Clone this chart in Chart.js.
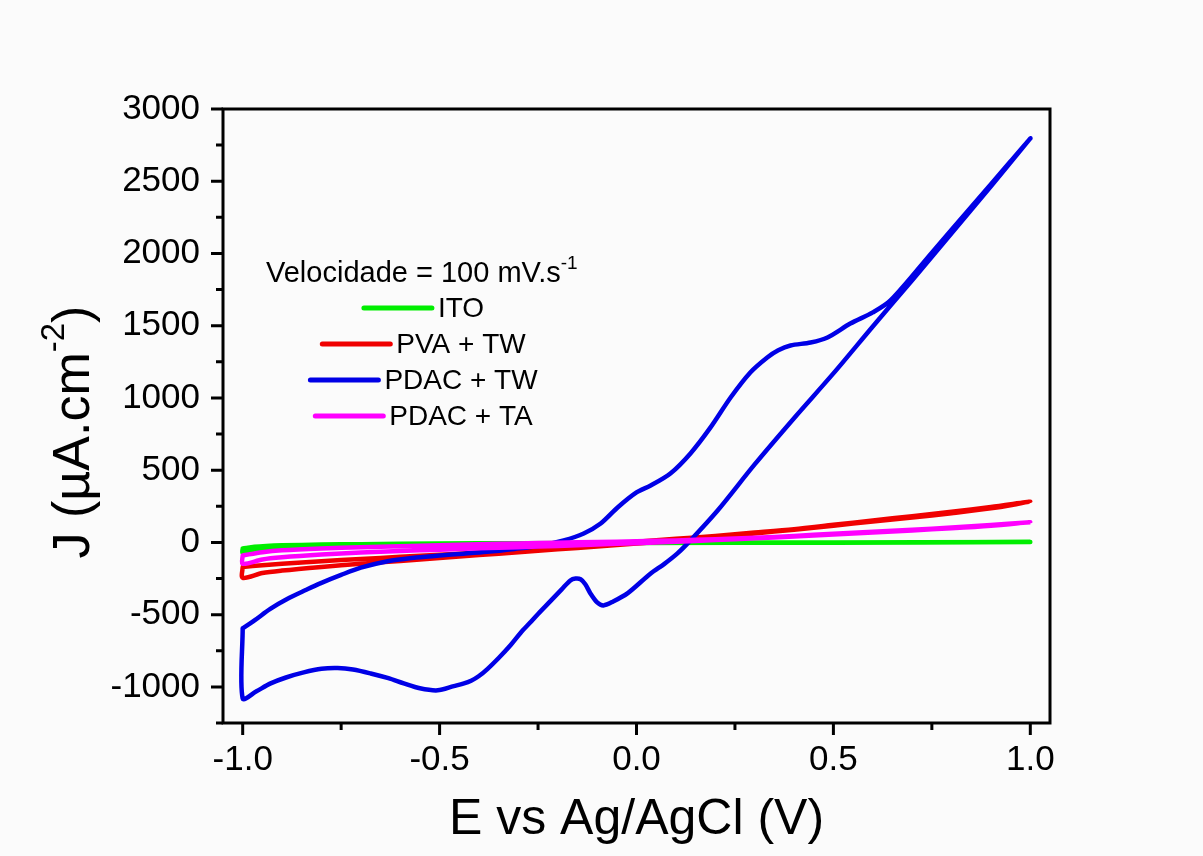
<!DOCTYPE html>
<html>
<head>
<meta charset="utf-8">
<script src="https://cdn.jsdelivr.net/npm/chart.js@4.4.0/dist/chart.umd.min.js"></script>
<style>
html, body { margin: 0; padding: 0; background: #fbfbfb; }
canvas { display: block; }
</style>
</head>
<body>
<canvas id="cvChart" width="1203" height="856"></canvas>
<script>
// axis ticks
const xTicks = [-1.0, -0.5, 0.0, 0.5, 1.0];
const xMinor = [-0.75, -0.25, 0.25, 0.75];
const yTicks = [-1000, -500, 0, 500, 1000, 1500, 2000, 2500, 3000];
const yMinor = [-1250, -750, -250, 250, 750, 1250, 1750, 2250, 2750];

// ITO
const itoE = [-1.0, -0.97, -0.94, -0.9, -0.8, -0.7, -0.5, -0.3, 0.0, 0.5, 1.0,
  0.5, 0.0, -0.3, -0.5, -0.7, -0.8, -0.9, -0.94, -0.97, -1.0, -1.0];
const itoJ = [-42, -30, -24, -20, -15, -12, -8, -5, -2, 0, 2,
  -2, -4, -7, -12, -18, -24, -32, -40, -50, -70, -42];

// PVA + TW
const pvaE = [-1.0, -0.95, -0.9, -0.8, -0.7, -0.6, -0.5, -0.4, -0.3, -0.2, -0.1, 0.0, 0.1, 0.2, 0.3, 0.4, 0.5, 0.6, 0.7, 0.8, 0.9, 1.0,
  0.9, 0.8, 0.7, 0.6, 0.5, 0.4, 0.3, 0.2, 0.1, 0.0, -0.1, -0.2, -0.3, -0.4, -0.5, -0.6, -0.7, -0.8, -0.9, -0.95, -1.0, -1.0];
const pvaJ = [-170, -158, -148, -130, -115, -100, -85, -70, -52, -35, -15, 5, 25, 45, 68, 92, 122, 152, 182, 212, 245, 282,
  236, 202, 172, 144, 116, 88, 62, 36, 14, -8, -28, -48, -68, -88, -108, -128, -148, -170, -195, -212, -245, -170];

// PDAC + TW
const twE = [-1.0, -0.97, -0.93, -0.886, -0.84, -0.8, -0.75, -0.7, -0.632, -0.56, -0.5, -0.44, -0.38, -0.31, -0.25, -0.185,
  -0.134, -0.091, -0.048, 0.0, 0.036, 0.086, 0.137, 0.188, 0.239, 0.289, 0.332, 0.36, 0.391, 0.442, 0.485, 0.543, 0.6, 0.645,
  0.75, 0.85, 0.95, 1.0,
  0.9, 0.8, 0.7, 0.6, 0.5, 0.4, 0.3, 0.206, 0.137, 0.104, 0.07, 0.036, -0.023, -0.06, -0.084, -0.1, -0.117, -0.13, -0.142,
  -0.155, -0.168, -0.19, -0.218, -0.25, -0.27, -0.294, -0.32, -0.35, -0.378, -0.4, -0.42, -0.44, -0.464, -0.505, -0.55,
  -0.591, -0.63, -0.675, -0.72, -0.759, -0.8, -0.845, -0.89, -0.929, -0.965, -1.0, -1.0];
const twJ = [-595, -540, -460, -390, -330, -280, -225, -175, -130, -105, -90, -78, -65, -45, -25, 14,
  62, 131, 242, 346, 394, 477, 616, 796, 1003, 1176, 1280, 1330, 1363, 1384, 1419, 1515, 1592, 1675,
  2006, 2322, 2638, 2796,
  2465, 2140, 1815, 1495, 1170, 860, 540, 221, 14, -76, -150, -215, -353, -410, -436, -415, -353, -290, -255,
  -250, -263, -325, -405, -495, -555, -625, -712, -800, -875, -925, -958, -978, -995, -1024, -1010,
  -976, -940, -907, -880, -870, -875, -900, -935, -976, -1030, -1080, -595];

// PDAC + TA
const taE = [-1.0, -0.95, -0.9, -0.8, -0.7, -0.6, -0.5, -0.4, -0.3, -0.2, -0.1, 0.0, 0.1, 0.2, 0.3, 0.4, 0.5, 0.6, 0.7, 0.8, 0.9, 1.0,
  0.9, 0.8, 0.7, 0.6, 0.5, 0.4, 0.3, 0.2, 0.1, 0.0, -0.1, -0.2, -0.3, -0.4, -0.5, -0.6, -0.7, -0.8, -0.9, -0.95, -1.0, -1.0];
const taJ = [-90, -68, -55, -42, -33, -26, -19, -13, -7, -2, 3, 8, 14, 22, 32, 45, 60, 74, 88, 103, 120, 140,
  116, 98, 83, 69, 55, 41, 28, 16, 5, -5, -15, -24, -33, -41, -50, -59, -70, -84, -103, -118, -148, -90];

const toPoints = (xs, ys) => xs.map((v, i) => ({ x: v, y: ys[i] }));

const fontFam = '"Liberation Sans", Arial, sans-serif';
Chart.defaults.font.family = fontFam;
Chart.defaults.color = '#000';

const frameAndLegend = {
  id: 'frameAndLegend',
  beforeDraw(chart) {
    const ctx = chart.ctx;
    ctx.save();
    ctx.fillStyle = '#fbfbfb';
    ctx.fillRect(0, 0, chart.width, chart.height);
    ctx.restore();
  },
  afterDatasetsDraw(chart) {
    const ctx = chart.ctx;
    const a = chart.chartArea;
    const xs = chart.scales.x, ys = chart.scales.y;
    ctx.save();
    ctx.strokeStyle = '#000';
    ctx.lineWidth = 3;
    ctx.strokeRect(a.left, a.top, a.right - a.left, a.bottom - a.top);

    // ticks, pointing out
    ctx.beginPath();
    xTicks.forEach(v => { const p = xs.getPixelForValue(v); ctx.moveTo(p, a.bottom); ctx.lineTo(p, a.bottom + 12); });
    xMinor.forEach(v => { const p = xs.getPixelForValue(v); ctx.moveTo(p, a.bottom); ctx.lineTo(p, a.bottom + 7); });
    yTicks.forEach(v => { const p = ys.getPixelForValue(v); ctx.moveTo(a.left, p); ctx.lineTo(a.left - 12, p); });
    yMinor.forEach(v => { const p = ys.getPixelForValue(v); ctx.moveTo(a.left, p); ctx.lineTo(a.left - 7, p); });
    ctx.stroke();

    // y title with superscript
    ctx.save();
    ctx.translate(70, 432);
    ctx.rotate(-Math.PI / 2);
    ctx.fillStyle = '#000';
    ctx.textBaseline = 'alphabetic';
    ctx.textAlign = 'left';
    ctx.font = '52px ' + fontFam;
    const t1 = 'J (\u00b5A.cm', t3 = ')';
    const w1 = ctx.measureText(t1).width, w3 = ctx.measureText(t3).width;
    ctx.font = '33px ' + fontFam;
    const w2 = ctx.measureText('-2').width;
    let sx = -(w1 + w2 + w3) / 2;
    ctx.font = '52px ' + fontFam;
    ctx.fillText(t1, sx, 19);
    ctx.font = '33px ' + fontFam;
    ctx.fillText('-2', sx + w1, -6);
    ctx.font = '52px ' + fontFam;
    ctx.fillText(t3, sx + w1 + w2, 19);
    ctx.restore();

    // legend
    ctx.fillStyle = '#000';
    ctx.textAlign = 'left';
    ctx.textBaseline = 'alphabetic';
    ctx.font = '29px ' + fontFam;
    const title = 'Velocidade = 100 mV.s';
    const tw = ctx.measureText(title).width;
    ctx.fillText(title, 266, 282);
    ctx.font = '19px ' + fontFam;
    ctx.fillText('-1', 266 + tw, 269);

    ctx.font = '28px ' + fontFam;
    ctx.textBaseline = 'middle';
    chart.data.datasets.forEach((ds, i) => {
      const ly = 308 + 36 * i;
      const textW = ctx.measureText(ds.label).width;
      const start = 424 - (68 + 6 + textW) / 2;
      ctx.beginPath();
      ctx.strokeStyle = ds.borderColor;
      ctx.lineWidth = 5;
      ctx.lineCap = 'round';
      ctx.moveTo(start, ly);
      ctx.lineTo(start + 68, ly);
      ctx.stroke();
      ctx.fillText(ds.label, start + 74, ly + 1);
    });
    ctx.restore();
  }
};

new Chart(document.getElementById('cvChart'), {
  type: 'scatter',
  data: {
    datasets: [
      { label: 'ITO', data: toPoints(itoE, itoJ), borderColor: '#00ee00', order: 3 },
      { label: 'PVA + TW', data: toPoints(pvaE, pvaJ), borderColor: '#f00000', order: 2 },
      { label: 'PDAC + TW', data: toPoints(twE, twJ), borderColor: '#0000e6', order: 1 },
      { label: 'PDAC + TA', data: toPoints(taE, taJ), borderColor: '#ff00ff', order: 0 }
    ].map(d => Object.assign(d, { showLine: true, pointRadius: 0, borderWidth: 4.5, tension: 0.3,
      borderCapStyle: 'round', borderJoinStyle: 'round', backgroundColor: d.borderColor }))
  },
  options: {
    responsive: false,
    animation: false,
    layout: { padding: { top: 109, right: 153, left: 0, bottom: 0 } },
    plugins: { legend: { display: false }, tooltip: { enabled: false } },
    scales: {
      x: {
        type: 'linear',
        min: -1.05,
        max: 1.05,
        afterBuildTicks: s => { s.ticks = xTicks.map(v => ({ value: v })); },
        afterFit: s => { s.height = 133; },
        grid: { display: false, drawTicks: false },
        border: { display: false },
        ticks: { font: { size: 35 }, color: '#000', padding: 16, maxRotation: 0, callback: v => v.toFixed(1) },
        title: { display: true, text: 'E vs Ag/AgCl (V)', font: { size: 50 }, color: '#000', padding: { top: 0, bottom: 6 } }
      },
      y: {
        type: 'linear',
        min: -1250,
        max: 3000,
        afterBuildTicks: s => { s.ticks = yTicks.map(v => ({ value: v })); },
        afterFit: s => { s.width = 223; },
        grid: { display: false, drawTicks: false },
        border: { display: false },
        ticks: { font: { size: 35 }, color: '#000', padding: 23, callback: v => String(v) }
      }
    }
  },
  plugins: [frameAndLegend]
});
</script>
</body>
</html>
